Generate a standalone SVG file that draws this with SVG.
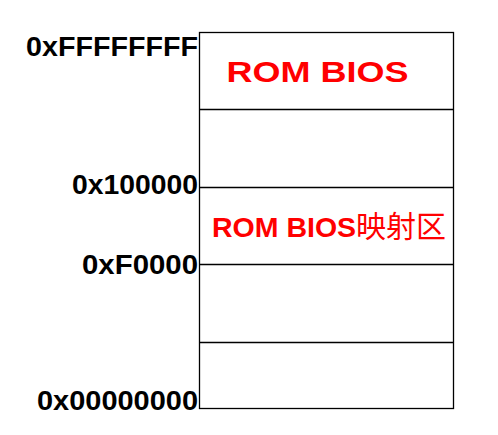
<svg xmlns="http://www.w3.org/2000/svg" width="498" height="435" viewBox="0 0 498 435">
  <style>
    .cell { fill: #ffffff; stroke: #000000; stroke-width: 1.3; }
    .addr { font-family: "Liberation Sans", Arial, sans-serif; font-weight: bold; font-size: 27px; fill: #000000; text-anchor: end; }
    .zone { font-family: "Liberation Sans", Arial, "Noto Sans CJK SC", sans-serif; font-weight: bold; fill: #ff0000; }
    .cjk { font-family: "Noto Sans CJK SC", sans-serif; font-weight: normal; font-size: 30px; }
  </style>

  <!-- memory map column, split into five regions -->
  <g id="memory-map">
    <rect class="cell" x="199.5" y="32.5" width="254" height="376"/>
    <line class="cell" x1="199.5" y1="109.5" x2="453.5" y2="109.5"/>
    <line class="cell" x1="199.5" y1="187.5" x2="453.5" y2="187.5"/>
    <line class="cell" x1="199.5" y1="264.5" x2="453.5" y2="264.5"/>
    <line class="cell" x1="199.5" y1="342.5" x2="453.5" y2="342.5"/>
  </g>

  <!-- address labels on the left edge -->
  <g id="addr-top">
    <text class="addr" x="198" y="56" textLength="172" lengthAdjust="spacingAndGlyphs">0xFFFFFFFF</text>
  </g>
  <g id="addr-1m">
    <text class="addr" x="198" y="194" textLength="126" lengthAdjust="spacingAndGlyphs">0x100000</text>
  </g>
  <g id="addr-f0000">
    <text class="addr" x="198" y="274" textLength="116" lengthAdjust="spacingAndGlyphs">0xF0000</text>
  </g>
  <g id="addr-zero">
    <text class="addr" x="198" y="410" textLength="161" lengthAdjust="spacingAndGlyphs">0x00000000</text>
  </g>

  <!-- region names -->
  <g id="rom-bios">
    <text class="zone" x="226.5" y="82" font-size="29.5" textLength="182" lengthAdjust="spacingAndGlyphs">ROM BIOS</text>
  </g>
  <g id="rom-bios-shadow">
    <text class="zone" x="212" y="237" font-size="28.5">ROM BIOS<tspan class="cjk">映射区</tspan></text>
  </g>
</svg>
